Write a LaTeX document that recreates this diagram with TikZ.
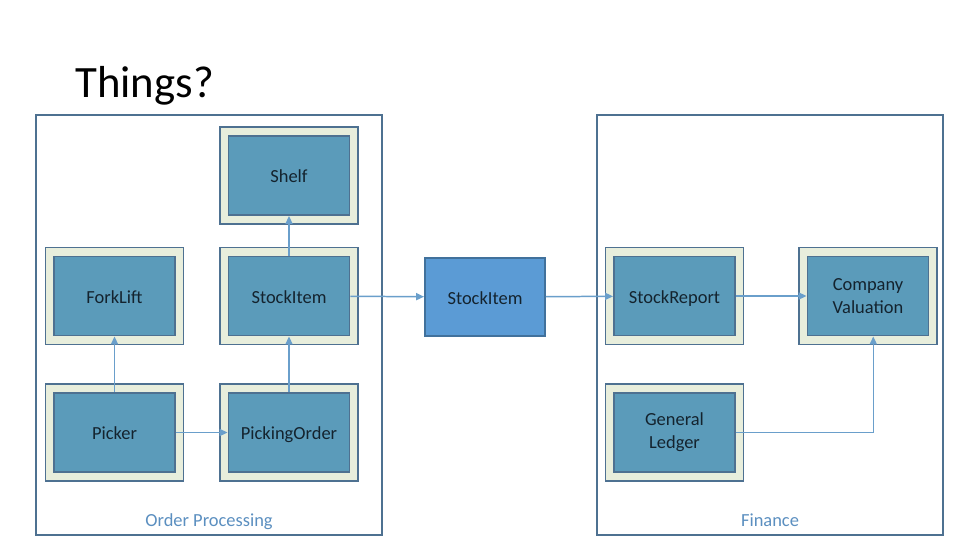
\documentclass[tikz,border=0pt]{standalone}
\usepackage{fontspec}
\setmainfont{Carlito}
\usetikzlibrary{arrows.meta,positioning}

\definecolor{framefill}{HTML}{E8EEDC}
\definecolor{frameline}{HTML}{4E7191}
\definecolor{thingfill}{HTML}{5B9BBA}
\definecolor{sharedfill}{HTML}{5B9BD5}
\definecolor{sharedline}{HTML}{41719C}
\definecolor{linkblue}{HTML}{6A9FCB}
\definecolor{labelblue}{HTML}{5B8FC0}
\definecolor{thingtext}{HTML}{14232E}

\tikzset{
  group/.style={draw=frameline, line width=1.1pt, minimum width=6.92cm, minimum height=8.4cm},
  grouplabel/.style={text=labelblue, font=\fontsize{10.5}{13}\selectfont, text height=1.6ex, text depth=0.45ex},
  frame/.style={draw=frameline, fill=framefill, line width=1.1pt, minimum width=2.76cm, minimum height=1.94cm},
  thing/.style={draw=frameline, fill=thingfill, line width=1.1pt, minimum width=2.42cm, minimum height=1.58cm,
                text=thingtext, align=center, font=\fontsize{10.5}{13}\selectfont},
  word/.style={thing, text height=2.0ex, text depth=0.25ex},
  shared/.style={word, draw=sharedline, fill=sharedfill, minimum width=2.4cm, minimum height=1.56cm},
  link/.style={draw=linkblue, line width=0.85pt, -{Triangle[length=4.5pt,width=4pt]}}
}

\begin{document}
\begin{tikzpicture}[x=0.02cm, y=-0.02cm]

	  \useasboundingbox [fill=white] (0,0) rectangle (979,551);

	  \node [anchor=base west, inner sep=0pt, font=\fontsize{25.5}{30}\selectfont] (title) at (75,97) {Things?};

	  %----------------------------------------------------------------
	  % order processing
	  \node [group] (orderbox) at (209,325) {};
	  \node [grouplabel] (orderlabel) at (209,521.5) {Order Processing};

	  \node [frame] (shelfo) at (289,175.5) {};
	  \node [frame] (forklifto) at (114.5,296) {};
	  \node [frame] (stockitemo) at (289,296) {};
	  \node [frame] (pickero) at (114.5,432.5) {};
	  \node [frame] (pickingordero) at (289,432.5) {};

	  \node [word] (shelf) at (shelfo) {Shelf};
	  \node [word] (forklift) at (forklifto) {ForkLift};
	  \node [word] (stockitem) at (stockitemo) {StockItem};
	  \node [word] (picker) at (pickero) {Picker};
	  \node [word] (pickingorder) at (pickingordero) {PickingOrder};

	  %----------------------------------------------------------------
	  % finance
	  \node [group] (financebox) at (770,325) {};
	  \node [grouplabel] (financelabel) at (770,521.5) {Finance};

	  \node [frame] (stockreporto) at (674.5,296) {};
	  \node [frame] (valuationo) at (868,296) {};
	  \node [frame] (ledgero) at (674.5,432.5) {};

	  \node [word] (stockreport) at (stockreporto) {StockReport};
	  \node [thing] (valuation) at (valuationo) {Company\\Valuation};
	  \node [thing] (ledger) at (ledgero) {General\\Ledger};

	  %----------------------------------------------------------------
	  % shared stock item
	  \node [shared] (sharedstock) at (485,297) {StockItem};

	  %----------------------------------------------------------------
	  \draw [link] (stockitem) -- (shelf);
	  \draw [link] (picker) -- (forklift);
	  \draw [link] (pickingorder) -- (stockitem);
	  \draw [link] (picker) -- (pickingorder);
	  \draw [link] (stockitem) -- (sharedstock);
	  \draw [link] (sharedstock) -- (stockreport);
	  \draw [link] (stockreport) -- (valuation);
	  \draw [link] (ledger.east) -| ([xshift=3]valuation.south);

\end{tikzpicture}
\end{document}
